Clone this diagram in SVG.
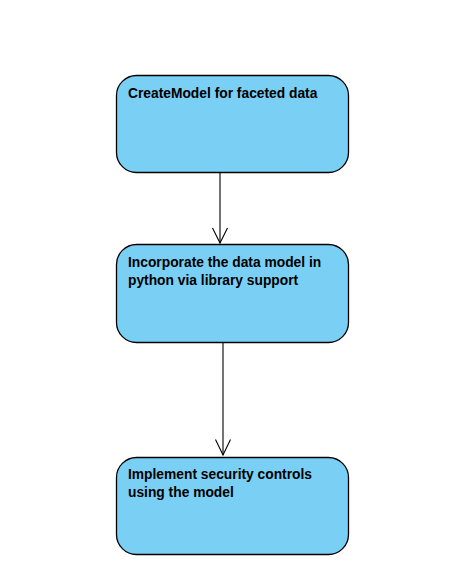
<svg xmlns="http://www.w3.org/2000/svg" width="467" height="577" viewBox="0 0 467 577">
<style>
.box{fill:#7acff5;stroke:#000;stroke-width:1.3}
.t{font-family:"Liberation Sans",Arial,sans-serif;font-weight:bold;font-size:13.8px;fill:#000}
.c{stroke:#000;stroke-width:1.1;fill:none}
</style>
<rect width="467" height="577" fill="#fff"/>
<g id="connectors">
<line class="c" x1="220" y1="172" x2="220" y2="243"/>
<polyline class="c" points="212.5,228 220,243 227.5,228"/>
<line class="c" x1="223" y1="343" x2="223" y2="455"/>
<polyline class="c" points="215.5,439.5 223,455 230.5,439.5"/>
</g>
<g id="node1">
<rect class="box" x="116.5" y="75.5" width="232" height="97" rx="20" ry="20"/>
<text class="t" x="128" y="97.5">CreateModel for faceted data</text>
</g>
<g id="node2">
<rect class="box" x="116.5" y="244.5" width="232" height="98" rx="20" ry="20"/>
<text class="t" x="128" y="267">Incorporate the data model in</text>
<text class="t" x="128" y="285">python via library support</text>
</g>
<g id="node3">
<rect class="box" x="116.5" y="457.5" width="232" height="97" rx="20" ry="20"/>
<text class="t" x="128" y="479">Implement security controls</text>
<text class="t" x="128" y="497">using the model</text>
</g>
</svg>
